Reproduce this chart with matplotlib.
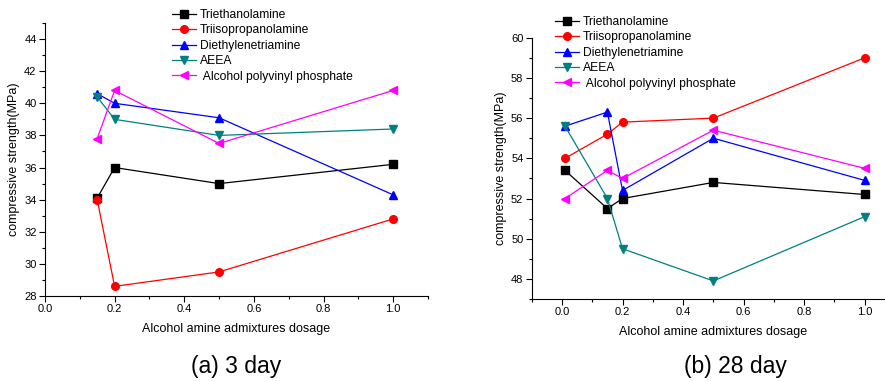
import matplotlib
matplotlib.use('Agg')
import matplotlib.pyplot as plt
from matplotlib.ticker import MultipleLocator

plt.rcParams['font.family'] = ['Liberation Sans', 'DejaVu Sans']

names = ['Triethanolamine', 'Triisopropanolamine', 'Diethylenetriamine',
         'AEEA', ' Alcohol polyvinyl phosphate']

# 3 day
dose_3d = [0.15, 0.2, 0.5, 1.0]
tea_3d = [34.1, 36.0, 35.0, 36.2]
tipa_3d = [34.0, 28.6, 29.5, 32.8]
deta_3d = [40.6, 40.0, 39.1, 34.3]
aeea_3d = [40.4, 39.0, 38.0, 38.4]
app_3d = [37.8, 40.8, 37.5, 40.8]

# 28 day
dose_28d = [0.01, 0.15, 0.2, 0.5, 1.0]
tea_28d = [53.4, 51.5, 52.0, 52.8, 52.2]
tipa_28d = [54.0, 55.2, 55.8, 56.0, 59.0]
deta_28d = [55.6, 56.3, 52.4, 55.0, 52.9]
aeea_28d = [55.6, 52.0, 49.5, 47.9, 51.1]
app_28d = [52.0, 53.4, 53.0, 55.4, 53.5]

colors = ['black', 'red', 'blue', '#008080', 'magenta']
markers = ['s', 'o', '^', 'v', '<']

fig = plt.figure(figsize=(8.85, 3.81), dpi=100)

ax1 = fig.add_axes([0.0508, 0.2231, 0.4328, 0.7165])
ax2 = fig.add_axes([0.6008, 0.2152, 0.4105, 0.6858])


def draw(ax, x, series, xlim, ylim, leg_anchor):
    for y, name, c, m in zip(series, names, colors, markers):
        ax.plot(x, y, color=c, marker=m, markersize=5.5, linewidth=0.9,
                label=name)
    ax.set_xlim(*xlim)
    ax.set_ylim(*ylim)
    ax.xaxis.set_major_locator(MultipleLocator(0.2))
    ax.xaxis.set_minor_locator(MultipleLocator(0.1))
    ax.yaxis.set_major_locator(MultipleLocator(2))
    ax.yaxis.set_minor_locator(MultipleLocator(1))
    ax.xaxis.set_major_formatter(plt.FuncFormatter(lambda v, p: '%.1f' % v))
    ax.spines['top'].set_visible(False)
    ax.spines['right'].set_visible(False)
    ax.tick_params(which='major', direction='out', length=4, width=0.8,
                   labelsize=8, pad=2)
    ax.tick_params(which='minor', direction='out', length=2, width=0.8)
    ax.set_xlabel('Alcohol amine admixtures dosage', fontsize=9, labelpad=6)
    ax.set_ylabel('compressive strength(MPa)', fontsize=9, labelpad=3)
    ax.legend(loc='upper left', bbox_to_anchor=leg_anchor,
              bbox_transform=fig.transFigure, frameon=False, fontsize=8.7,
              handlelength=2.0, handletextpad=0.3, labelspacing=0.28,
              borderaxespad=0, borderpad=0)


draw(ax1, dose_3d, [tea_3d, tipa_3d, deta_3d, aeea_3d, app_3d],
     (0.0, 1.1), (28, 45), (172 / 885, 1 - 9 / 381))
draw(ax2, dose_28d, [tea_28d, tipa_28d, deta_28d, aeea_28d, app_28d],
     (-0.1, 1.1), (47, 60), (555 / 885, 1 - 16 / 381))
ax2.set_xticks([0.0, 0.2, 0.4, 0.6, 0.8, 1.0])

fig.text(236 / 885, 1 - 367 / 381, '(a) 3 day', fontsize=16.5,
         ha='center', va='center')
fig.text(735 / 885, 1 - 367 / 381, '(b) 28 day', fontsize=16.5,
         ha='center', va='center')

fig.savefig('out.png', dpi=100)
